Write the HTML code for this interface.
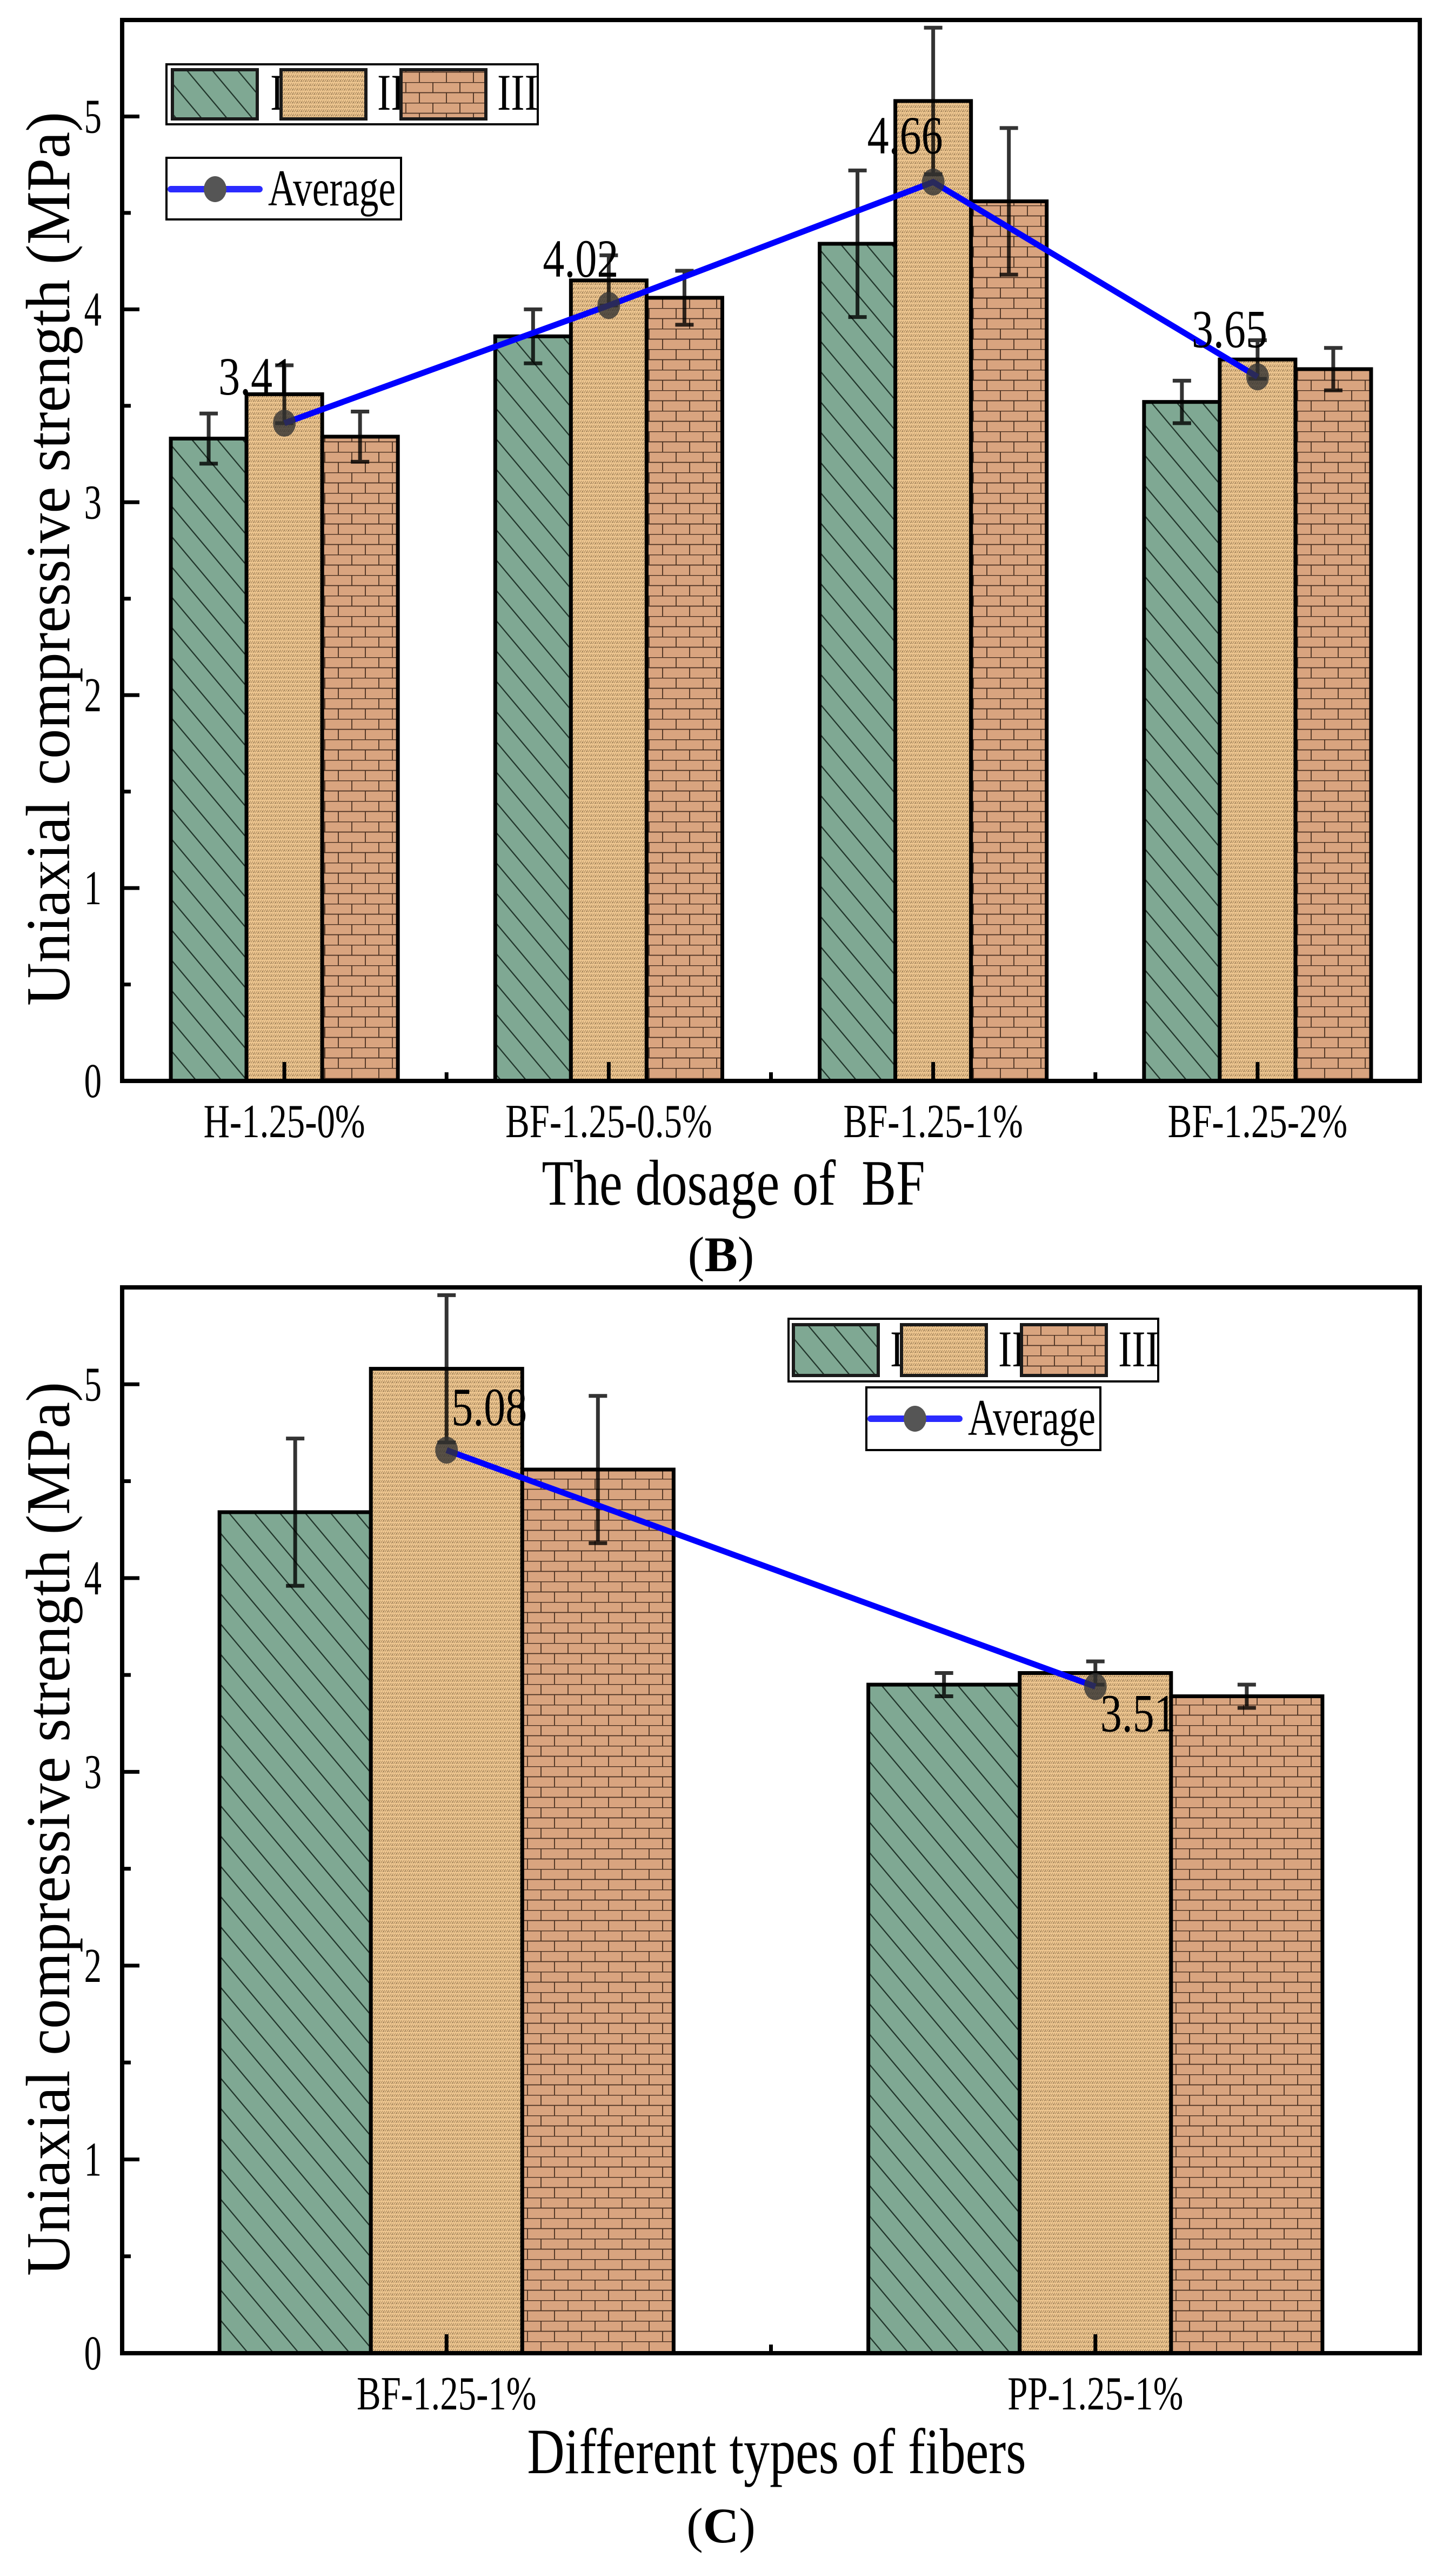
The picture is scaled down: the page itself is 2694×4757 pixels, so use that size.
<!DOCTYPE html>
<html><head><meta charset="utf-8">
<style>
html,body{margin:0;padding:0;background:#fff;}
svg{display:block;}
text{font-family:"Liberation Serif","Times New Roman",serif;fill:#000;}
</style></head>
<body>
<svg id="fig" xmlns="http://www.w3.org/2000/svg" width="2694" height="4757" viewBox="0 0 2694 4757">
<defs>
<pattern id="hatch" patternUnits="userSpaceOnUse" width="36" height="36" patternTransform="rotate(-40)">
<rect width="36" height="36" fill="#7fa893"/>
<line x1="1" y1="0" x2="1" y2="36" stroke="#1f3329" stroke-width="2.5"/>
</pattern>
<pattern id="tan" patternUnits="userSpaceOnUse" width="8" height="8">
<rect width="8" height="8" fill="#efc791"/>
<path d="M0 8 L4 2 M4 8 L8 2" stroke="#a8875c" stroke-width="1.2" fill="none"/>
<circle cx="6" cy="6" r="0.8" fill="#6b5436"/>
</pattern>
<pattern id="brick" patternUnits="userSpaceOnUse" width="100" height="38">
<rect width="100" height="38" fill="#d9a47f"/>
<path d="M0 0.5 H100 M0 19.5 H100 M1 0 V19 M51 0 V19 M26 19 V38 M76 19 V38" stroke="#4a3020" stroke-width="1.8" fill="none"/>
</pattern>
</defs>
<g id="root"></g>
</svg>
<script>
// ---------- Chart B data ----------
const catsB = ["H-1.25-0%", "BF-1.25-0.5%", "BF-1.25-1%", "BF-1.25-2%"];
const serIB = [3.33, 3.86, 4.34, 3.52];
const errIB = [0.13, 0.14, 0.38, 0.11];
const serIIB = [3.56, 4.15, 5.08, 3.74];
const errIIB = [0.15, 0.13, 0.38, 0.10];
const serIIIB = [3.34, 4.06, 4.56, 3.69];
const errIIIB = [0.13, 0.14, 0.38, 0.11];
const avgB = [3.41, 4.02, 4.66, 3.65];
const avgLabelsB = ["3.41", "4.02", "4.66", "3.65"];
// ---------- Chart C data ----------
const catsC = ["BF-1.25-1%", "PP-1.25-1%"];
const serIC = [4.34, 3.45];
const errIC = [0.38, 0.06];
const serIIC = [5.08, 3.51];
const errIIC = [0.38, 0.06];
const serIIIC = [4.56, 3.39];
const errIIIC = [0.38, 0.06];
const avgC = [4.66, 3.44];
const avgLabelsC = ["5.08", "3.51"];
const yTickLabels = ["0", "1", "2", "3", "4", "5"];

const NS = "http://www.w3.org/2000/svg";
const root = document.getElementById('root');
function mk(tag, attrs, parent) {
  const e = document.createElementNS(NS, tag);
  for (const k in attrs) e.setAttribute(k, attrs[k]);
  (parent || root).appendChild(e);
  return e;
}
function txt(str, attrs, parent) {
  const e = mk('text', attrs, parent);
  e.textContent = str;
  return e;
}

function drawChart(cfg) {
  const g = mk('g', {});
  
  
  const L = cfg.left, R = cfg.right, T = cfg.top, B = cfg.bottom, ymax = 5.5;
  const n = cfg.cats.length, step = (R - L) / n, bw = step * 0.2333;
  const xc = i => L + (i + 0.5) * step;
  const y = v => B - v * (B - T) / ymax;
  const fills = ['url(#hatch)', 'url(#tan)', 'url(#brick)'];
  const sNames = ['I', 'II', 'III'];
  cfg.series.forEach((s, k) => {
    s.forEach((v, i) => {
      const r = mk('rect', {x: xc(i) + (k - 1.5) * bw, y: y(v), width: bw, height: B - y(v), fill: fills[k], stroke: '#000', 'stroke-width': 7}, g);
      
      
    });
  });
  cfg.series.forEach((s, k) => {
    s.forEach((v, i) => {
      const e = cfg.errs[k][i], cx = xc(i) + (k - 1) * bw;
      const eg = mk('g', {stroke: '#000', 'stroke-opacity': 0.8, 'stroke-width': 7, fill: 'none'}, g);
      
      
      mk('path', {d: `M${cx} ${y(v + e)} V${y(v - e)} M${cx - 17} ${y(v + e)} H${cx + 17} M${cx - 17} ${y(v - e)} H${cx + 17}`}, eg);
    });
  });
  const pts = cfg.avg.map((v, i) => `${xc(i)},${y(v)}`).join(' ');
  const pl = mk('polyline', {points: pts, fill: 'none', stroke: '#0000ff', 'stroke-width': 11}, g);
  
  
  cfg.avg.forEach((v, i) => {
    const m = mk('ellipse', {cx: xc(i), cy: y(v), rx: 21, ry: 25, fill: '#333', 'fill-opacity': 0.8}, g);
    
    
    const t = txt(cfg.avgLabels[i], {transform: `translate(${xc(i) + cfg.ldx[i]},${y(v) + cfg.ldy[i]}) scale(0.8,1)`, 'font-size': 100, 'text-anchor': 'middle'}, g);
    
    
  });
  const fr = mk('rect', {x: L, y: T, width: R - L, height: B - T, fill: 'none', stroke: '#000', 'stroke-width': 8}, g);
  
  
  for (let j = 0; j <= 11; j++) {
    const v = j * 0.5, yy = y(v), len = j % 2 === 0 ? 32 : 16;
    const tk = mk('line', {x1: L, x2: L + len, y1: yy, y2: yy, stroke: '#000', 'stroke-width': 7}, g);
    
    
  }
  yTickLabels.forEach((lab, j) => {
    const t = txt(lab, {transform: `translate(188,${y(j) + 30}) scale(0.72,1)`, 'font-size': 90, 'text-anchor': 'end'}, g);
    
    
  });
  cfg.cats.forEach((c, i) => {
    const tk = mk('line', {x1: xc(i), x2: xc(i), y1: B, y2: B - 35, stroke: '#000', 'stroke-width': 7}, g);
    
    
    if (i < n - 1) {
      const mt = mk('line', {x1: L + (i + 1) * step, x2: L + (i + 1) * step, y1: B, y2: B - 16, stroke: '#000', 'stroke-width': 7}, g);
      
      
    }
    const t = txt(c, {transform: `translate(${xc(i)},${B + 104}) scale(0.76,1)`, 'font-size': 88, 'text-anchor': 'middle'}, g);
    
    
  });
  const yt = txt('Uniaxial compressive strength (MPa)', {transform: `translate(128,${cfg.ytc}) rotate(-90)`, 'font-size': 115, 'text-anchor': 'middle', textLength: 1654, lengthAdjust: 'spacingAndGlyphs'}, g);
  
  
  const xt = txt(cfg.xtitle, {transform: `translate(${cfg.xtx},${cfg.xty}) scale(0.8,1)`, 'font-size': 120, 'text-anchor': 'middle', style: 'white-space:pre'}, g);
  
  
  const pt = mk('text', {x: cfg.plx, y: cfg.ply, 'font-size': 92, 'text-anchor': 'middle'}, g);
  
  
  pt.appendChild(document.createTextNode('('));
  const bt = mk('tspan', {'font-weight': 'bold'}, pt);
  bt.textContent = cfg.panel;
  pt.appendChild(document.createTextNode(')'));
  const lg = cfg.legend;
  const lb = mk('rect', {x: lg.x, y: lg.y, width: lg.w, height: lg.h, fill: '#fff', stroke: '#000', 'stroke-width': 4}, g);
  
  
  lg.sw.forEach((sx, k) => {
    const s = mk('rect', {x: sx, y: lg.sy, width: 157, height: lg.sh, fill: fills[k], stroke: '#1a1a1a', 'stroke-width': 6}, g);
    
    
    const t = txt(sNames[k], {transform: `translate(${lg.lx[k]},${lg.lyb}) scale(0.8,1)`, 'font-size': 95}, g);
    
    
  });
  const ab = mk('rect', {x: lg.ax, y: lg.ay, width: lg.aw, height: lg.ah, fill: '#fff', stroke: '#000', 'stroke-width': 4}, g);
  
  
  const al = mk('line', {x1: lg.ax + 8, x2: lg.ax + 172, y1: lg.ay + 58, y2: lg.ay + 58, stroke: '#2b2bff', 'stroke-width': 12, 'stroke-linecap': 'round'}, g);
  
  
  const am = mk('ellipse', {cx: lg.ax + 90, cy: lg.ay + 58, rx: 21, ry: 24, fill: '#555'}, g);
  
  
  const at = txt('Average', {x: lg.ax + 188, y: lg.ay + 88, 'font-size': 95, textLength: 236, lengthAdjust: 'spacingAndGlyphs'}, g);
  
  
}

drawChart({
  name: 'chart-b', left: 226, right: 2627, top: 37, bottom: 2000,
  cats: catsB, series: [serIB, serIIB, serIIIB], errs: [errIB, errIIB, errIIIB],
  avg: avgB, avgLabels: avgLabelsB, ldx: [-52, -52, -52, -52], ldy: [-53, -53, -53, -55],
  ytc: 1034, xtitle: 'The dosage of  BF', xtx: 1357, xty: 2229,
  panel: 'B', plx: 1334, ply: 2352,
  legend: {x: 308, y: 119, w: 687, h: 111, sw: [319, 520, 742], sy: 129, sh: 91, lx: [500, 698, 920], lyb: 203,
           ax: 308, ay: 292, aw: 434, ah: 114}
});
drawChart({
  name: 'chart-c', left: 226, right: 2627, top: 2382, bottom: 4354,
  cats: catsC, series: [serIC, serIIC, serIIIC], errs: [errIC, errIIC, errIIIC],
  avg: avgC, avgLabels: avgLabelsC, ldx: [79, 79], ldy: [-46, 83],
  ytc: 3384, xtitle: 'Different types of fibers', xtx: 1437, xty: 4576,
  panel: 'C', plx: 1334, ply: 4704,
  legend: {x: 1459, y: 2440, w: 684, h: 116, sw: [1468, 1668, 1890], sy: 2451, sh: 94, lx: [1647, 1847, 2069], lyb: 2528,
           ax: 1603, ay: 2567, aw: 433, ah: 116}
});
</script>
</body></html>
